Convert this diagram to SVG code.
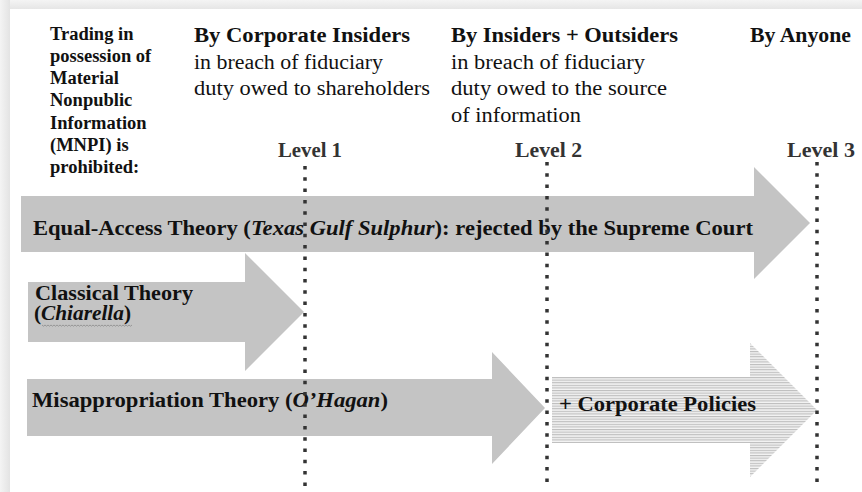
<svg xmlns="http://www.w3.org/2000/svg" width="862" height="492" viewBox="0 0 862 492">
  <defs>
    <linearGradient id="gTop" x1="0" y1="0" x2="0" y2="1">
      <stop offset="0" stop-color="#f4f4f4"/>
      <stop offset="1" stop-color="#e6e6e6"/>
    </linearGradient>
    <linearGradient id="gLeft" x1="0" y1="0" x2="1" y2="0">
      <stop offset="0" stop-color="#f4f4f4"/>
      <stop offset="1" stop-color="#e3e3e3"/>
    </linearGradient>
    <pattern id="hatch" patternUnits="userSpaceOnUse" width="6" height="2.6">
      <rect width="6" height="2.6" fill="#f3f3f3"/>
      <rect y="0" width="6" height="1.1" fill="#bdbdbd"/>
    </pattern>
    <style>
      text { font-family: "Liberation Serif", "Times New Roman", serif; fill: #111; }
      .b { font-weight: bold; }
      .hd { font-size: 20.5px; }
      .lc { font-size: 18.5px; font-weight: bold; }
      .lv { font-size: 20px; font-weight: bold; fill: #333; }
      .ar { font-size: 20.5px; font-weight: bold; }
      .it { font-style: italic; }
      .arrow { fill: #c4c4c4; }
      .dots { stroke: #333; stroke-width: 3.5; stroke-dasharray: 3.5 7.8; fill: none; }
    </style>
  </defs>

  <!-- page background -->
  <rect x="0" y="0" width="862" height="492" fill="#ffffff"/>
  <rect x="0" y="0" width="862" height="9" fill="url(#gTop)"/>
  <rect x="0" y="0" width="10" height="492" fill="url(#gLeft)"/>

  <!-- left column label -->
  <g id="label-mnpi">
    <text class="lc" x="50" y="40">Trading in</text>
    <text class="lc" x="50" y="62">possession of</text>
    <text class="lc" x="50" y="84">Material</text>
    <text class="lc" x="50" y="106">Nonpublic</text>
    <text class="lc" x="50" y="129">Information</text>
    <text class="lc" x="50" y="151">(MNPI) is</text>
    <text class="lc" x="50" y="173">prohibited:</text>
  </g>

  <!-- column headers -->
  <g id="header-insiders">
    <text class="hd b" x="194" y="42" textLength="216" lengthAdjust="spacingAndGlyphs">By Corporate Insiders</text>
    <text class="hd" x="194" y="68.5" textLength="189" lengthAdjust="spacingAndGlyphs">in breach of fiduciary</text>
    <text class="hd" x="194" y="95" textLength="236" lengthAdjust="spacingAndGlyphs">duty owed to shareholders</text>
  </g>
  <g id="header-outsiders">
    <text class="hd b" x="451" y="42" textLength="227" lengthAdjust="spacingAndGlyphs">By Insiders + Outsiders</text>
    <text class="hd" x="451" y="68.5" textLength="194" lengthAdjust="spacingAndGlyphs">in breach of fiduciary</text>
    <text class="hd" x="451" y="95" textLength="216" lengthAdjust="spacingAndGlyphs">duty owed to the source</text>
    <text class="hd" x="451" y="121.5" textLength="130" lengthAdjust="spacingAndGlyphs">of information</text>
  </g>
  <g id="header-anyone">
    <text class="hd b" x="750" y="42" textLength="101" lengthAdjust="spacingAndGlyphs">By Anyone</text>
  </g>

  <!-- level labels -->
  <g id="level-1"><text class="lv" x="278" y="157" textLength="64" lengthAdjust="spacingAndGlyphs">Level 1</text></g>
  <g id="level-2"><text class="lv" x="515" y="157" textLength="67" lengthAdjust="spacingAndGlyphs">Level 2</text></g>
  <g id="level-3"><text class="lv" x="787" y="157" textLength="68" lengthAdjust="spacingAndGlyphs">Level 3</text></g>

  <!-- arrows -->
  <g id="equal-access">
    <polygon class="arrow" points="21,196 754,196 754,167 810,223 754,279 754,252 21,252"/>
    <text class="ar" x="33" y="235" textLength="720" lengthAdjust="spacingAndGlyphs">Equal-Access Theory (<tspan class="it">Texas Gulf Sulphur</tspan>): rejected by the Supreme Court</text>
  </g>
  <g id="classical">
    <polygon class="arrow" points="28,282 245,282 245,253 304,312 245,371 245,342 28,342"/>
    <text class="ar" x="35" y="300" textLength="158" lengthAdjust="spacingAndGlyphs">Classical Theory</text>
    <text class="ar" x="34" y="320" textLength="97" lengthAdjust="spacingAndGlyphs">(<tspan class="it">Chiarella</tspan>)</text>
    <path d="M42,325 l1.5,1.2 l1.5,-1.2 l1.5,1.2 l1.5,-1.2 l1.5,1.2 l1.5,-1.2 l1.5,1.2 l1.5,-1.2 l1.5,1.2 l1.5,-1.2 l1.5,1.2 l1.5,-1.2 l1.5,1.2 l1.5,-1.2 l1.5,1.2 l1.5,-1.2 l1.5,1.2 l1.5,-1.2 l1.5,1.2 l1.5,-1.2 l1.5,1.2 l1.5,-1.2 l1.5,1.2 l1.5,-1.2 l1.5,1.2 l1.5,-1.2 l1.5,1.2 l1.5,-1.2 l1.5,1.2 l1.5,-1.2 l1.5,1.2 l1.5,-1.2 l1.5,1.2 l1.5,-1.2 l1.5,1.2 l1.5,-1.2 l1.5,1.2 l1.5,-1.2 l1.5,1.2 l1.5,-1.2 l1.5,1.2 l1.5,-1.2 l1.5,1.2 l1.5,-1.2 l1.5,1.2 l1.5,-1.2 l1.5,1.2 l1.5,-1.2 l1.5,1.2 l1.5,-1.2 l1.5,1.2 l1.5,-1.2 l1.5,1.2 l1.5,-1.2 l1.5,1.2 l1.5,-1.2 l1.5,1.2 l1.5,-1.2 l1.5,1.2 l1.5,-1.2" fill="none" stroke="#8a8a8a" stroke-width="0.8"/>
  </g>
  <g id="misappropriation">
    <polygon class="arrow" points="27,379 492,379 492,352 545,408 492,464 492,436 27,436"/>
    <text class="ar" x="32" y="407" textLength="356" lengthAdjust="spacingAndGlyphs">Misappropriation Theory (<tspan class="it">O’Hagan</tspan>)</text>
  </g>
  <g id="corporate-policies">
    <polygon fill="url(#hatch)" points="552,377 750,377 750,343 817,410 750,477 750,443 552,443"/>
    <text class="ar" x="559" y="411" textLength="197" lengthAdjust="spacingAndGlyphs">+ Corporate Policies</text>
  </g>

  <!-- level dividers -->
  <g id="connectors">
    <line class="dots" x1="305" y1="166" x2="305" y2="489"/>
    <line class="dots" x1="547" y1="162" x2="547" y2="484"/>
    <line class="dots" x1="817" y1="162" x2="817" y2="486"/>
  </g>
</svg>
